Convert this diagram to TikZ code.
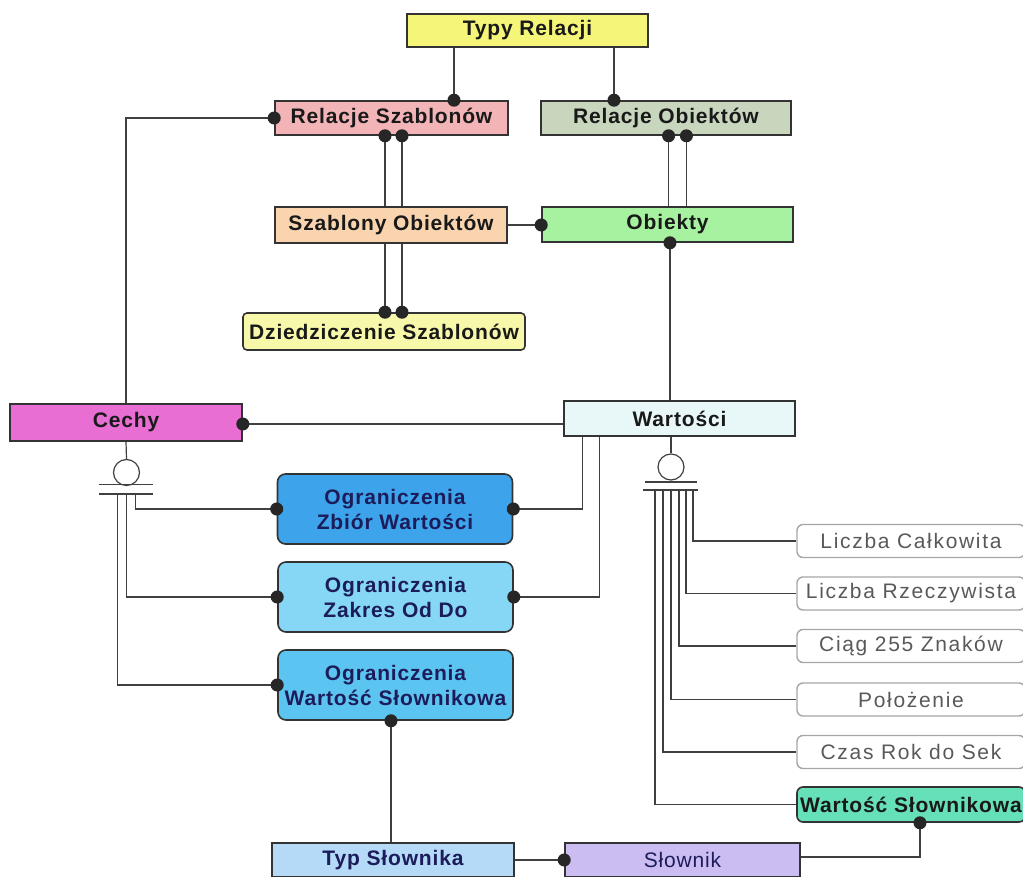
\documentclass[tikz,border=0pt]{standalone}
\usepackage{fontspec}
\setmainfont{Liberation Sans}[LetterSpace=4]
\newfontfamily\widefont{Liberation Sans}[LetterSpace=8]
\usetikzlibrary{arrows.meta}

\definecolor{cTypy}{RGB}{245,245,122}
\definecolor{cRelSz}{RGB}{242,180,182}
\definecolor{cRelOb}{RGB}{200,214,190}
\definecolor{cSzOb}{RGB}{249,212,174}
\definecolor{cObi}{RGB}{166,242,160}
\definecolor{cDzi}{RGB}{248,248,170}
\definecolor{cCechy}{RGB}{232,110,212}
\definecolor{cWart}{RGB}{232,248,248}
\definecolor{cZbior}{RGB}{61,163,235}
\definecolor{cZakres}{RGB}{134,214,245}
\definecolor{cOgrSl}{RGB}{92,196,240}
\definecolor{cWSl}{RGB}{102,224,184}
\definecolor{cTypSl}{RGB}{180,218,248}
\definecolor{cSlow}{RGB}{203,189,242}
\definecolor{cNavy}{RGB}{28,28,90}

\tikzset{
  ent/.style={draw=black!80, line width=0.8pt, inner sep=0pt, align=center,
    font=\fontsize{10.5}{12.5}\selectfont\bfseries, text=black!90},
  ogr/.style={ent, rounded corners=4pt, text=cNavy, minimum width=117.5pt, minimum height=35pt},
  typ/.style={draw=black!35, line width=0.7pt, rounded corners=3pt, inner sep=0pt,
    font=\widefont\fontsize{10.5}{12.5}\selectfont, text=black!65,
    minimum width=114pt, minimum height=16.5pt},
  link/.style={draw=black!75, line width=0.6pt},
  ballend/.style={-{Circle[length=6.5pt,width=6.5pt,color=black!85]}, shorten >=-3.25pt},
  ballstart/.style={{Circle[length=6.5pt,width=6.5pt,color=black!85]}-, shorten <=-3.25pt},
  subcirc/.style={circle, draw=black!75, line width=0.6pt, minimum size=13pt, inner sep=0pt}
}

\begin{document}
\begin{tikzpicture}[x=0.5pt,y=-0.5pt]
\useasboundingbox (0,0) rectangle (1023,877);

% encje
\node[ent, fill=cTypy, minimum width=120.5pt, minimum height=16.5pt] (typy) at (527.5,30.5) {Typy Relacji};
\node[ent, fill=cRelSz, minimum width=116.5pt, minimum height=17pt] (rsz) at (391.5,118) {Relacje Szablonów};
\node[ent, fill=cRelOb, minimum width=125pt, minimum height=17pt] (rob) at (666,118) {Relacje Obiektów};
\node[ent, fill=cSzOb, minimum width=116pt, minimum height=18pt] (szo) at (391,225) {Szablony Obiektów};
\node[ent, fill=cObi, minimum width=125.5pt, minimum height=17.5pt] (obi) at (667.5,224.5) {Obiekty};
\node[ent, fill=cDzi, rounded corners=2pt, minimum width=141pt, minimum height=18.5pt] (dzi) at (384,331.5) {Dziedziczenie Szablonów};
\node[ent, fill=cCechy, minimum width=116pt, minimum height=18.5pt] (cechy) at (126,422.5) {Cechy};
\node[ent, fill=cWart, minimum width=115.5pt, minimum height=17.5pt] (wart) at (679.5,418.5) {Wartości};

\node[ogr, fill=cZbior] (ozw) at (395,509) {Ograniczenia\\Zbiór Wartości};
\node[ogr, fill=cZakres] (ozk) at (395.5,597) {Ograniczenia\\Zakres Od Do};
\node[ogr, fill=cOgrSl] (ows) at (395.5,685) {Ograniczenia\\Wartość Słownikowa};

\node[typ] (lc) at (911,541) {Liczba Całkowita};
\node[typ] (lr) at (911,593.5) {Liczba Rzeczywista};
\node[typ] (cz) at (911,646) {Ciąg 255 Znaków};
\node[typ] (pol) at (911,699.5) {Położenie};
\node[typ] (czas) at (911,752) {Czas Rok do Sek};
\node[ent, fill=cWSl, rounded corners=3pt, minimum width=114pt, minimum height=17.5pt] (wsl) at (911,804.5) {Wartość Słownikowa};

\node[ent, fill=cTypSl, text=cNavy, minimum width=121pt, minimum height=17pt] (typsl) at (393,860) {Typ Słownika};
\node[ent, fill=cSlow, text=cNavy, font=\fontsize{10.5}{12.5}\selectfont, minimum width=117.5pt, minimum height=17pt] (slow) at (682.5,860) {Słownik};

% relacje
\draw[link,ballend] ([xshift=-36.75pt]typy.south) -- ([xshift=-36.75pt]typy.south |- rsz.north);
\draw[link,ballend] ([xshift=43.25pt]typy.south) -- ([xshift=43.25pt]typy.south |- rob.north);
\draw[link,ballstart] ([xshift=-3.25pt]rsz.south) -- ([xshift=-3.25pt]rsz.south |- szo.north);
\draw[link,ballstart] ([xshift=5.25pt]rsz.south) -- ([xshift=5.25pt]rsz.south |- szo.north);
\draw[link,ballend] ([xshift=-3pt]szo.south) -- ([xshift=-3pt]szo.south |- dzi.north);
\draw[link,ballend] ([xshift=5.5pt]szo.south) -- ([xshift=5.5pt]szo.south |- dzi.north);
\draw[link,ballstart] ([xshift=1.3pt]rob.south) -- ([xshift=1.3pt]rob.south |- obi.north);
\draw[link,ballstart] ([xshift=10.2pt]rob.south) -- ([xshift=10.2pt]rob.south |- obi.north);
\draw[link,ballend] (szo.east) -- (szo.east -| obi.west);
\draw[link,ballstart] ([xshift=1.25pt]obi.south) -- ([xshift=1.25pt]obi.south |- wart.north);
\draw[link,ballend] (cechy.north) |- (rsz.west);
\draw[link,ballstart] ([yshift=-0.75pt]cechy.east) -- ([yshift=-0.75pt]cechy.east -| wart.west);
\draw[link,ballend] ([xshift=9.5pt]wart.south west) |- (ozw.east);
\draw[link,ballend] ([xshift=18pt]wart.south west) |- (ozk.east);
\draw[link,ballstart] ([xshift=-2.25pt]ows.south) -- ([xshift=-2.25pt]ows.south |- typsl.north);
\draw[link,ballend] (typsl.east) -- (slow.west);
\draw[link,ballend] ([yshift=1.5pt]slow.east) -| ([xshift=4.5pt]wsl.south);

% podtypy cech
\node[subcirc] (csub) at (126.5,472.5) {};
\draw[link] (cechy.south) -- (csub.north);
\draw[link] (99,484.5) -- (153,484.5) (99,494) -- (153,494);
\coordinate (cbar) at (126.5,494);
\draw[link,ballend] ([xshift=4.5pt]cbar) |- (ozw.west);
\draw[link,ballend] (cbar) |- (ozk.west);
\draw[link,ballend] ([xshift=-4.5pt]cbar) |- (ows.west);

% podtypy wartosci
\node[subcirc] (wsub) at (671,467) {};
\draw[link] (wsub.north) -- (wsub.north |- wart.south);
\draw[link] (645,482) -- (697,482) (643,490) -- (698,490);
\coordinate (wbar) at (671,490);
\draw[link] ([xshift=11pt]wbar) |- (lc.west);
\draw[link] ([xshift=7.5pt]wbar) |- (lr.west);
\draw[link] ([xshift=4pt]wbar) |- (cz.west);
\draw[link] (wbar) |- (pol.west);
\draw[link] ([xshift=-4pt]wbar) |- (czas.west);
\draw[link] ([xshift=-8pt]wbar) |- (wsl.west);
\end{tikzpicture}
\end{document}
